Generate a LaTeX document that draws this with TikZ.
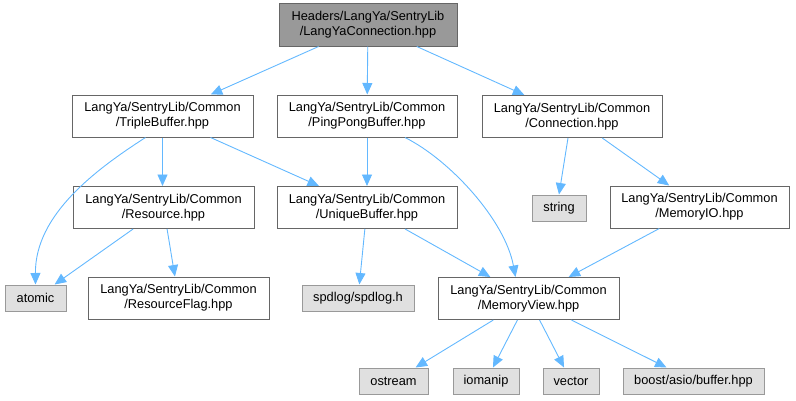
\documentclass[tikz,border=0pt]{standalone}
\usepackage{fontspec}
\setmainfont{Liberation Sans}
\usetikzlibrary{arrows.meta,calc}
\definecolor{edgec}{HTML}{63B8FF}
\definecolor{rootfill}{HTML}{999999}
\definecolor{boxline}{HTML}{666666}
\definecolor{extfill}{HTML}{E0E0E0}
\definecolor{extline}{HTML}{999999}
\tikzset{
  base/.style={rectangle, inner sep=0pt, line width=1pt, align=center,
    font=\fontsize{12.8}{15}\selectfont, text=black},
  filebox/.style={base, draw=boxline, fill=white, minimum width=#1pt, minimum height=42pt},
  rootbox/.style={base, draw=boxline, fill=rootfill, minimum width=#1pt, minimum height=43pt},
  extbox/.style={base, draw=extline, fill=extfill, minimum width=#1pt, minimum height=26pt},
  dep/.style={draw=edgec, line width=0.9pt, -{Triangle[length=11.5pt,width=10pt]}, color=edgec},
}
\begin{document}
\begin{tikzpicture}[x=1pt,y=-1pt]
\useasboundingbox (0,0) rectangle (796,400);
\node[rootbox=178] (root) at (368,24.5) {Headers/LangYa/SentryLib\\/LangYaConnection.hpp};
\node[filebox=181] (triple) at (162.5,116) {LangYa/SentryLib/Common\\/TripleBuffer.hpp};
\node[filebox=180] (ping) at (367,116) {LangYa/SentryLib/Common\\/PingPongBuffer.hpp};
\node[filebox=180] (conn) at (572,116.5) {LangYa/SentryLib/Common\\/Connection.hpp};
\node[extbox=54] (string) at (559,208) {string};
\node[filebox=179] (memio) at (699.5,207) {LangYa/SentryLib/Common\\/MemoryIO.hpp};
\node[filebox=181] (res) at (163.5,207.5) {LangYa/SentryLib/Common\\/Resource.hpp};
\node[filebox=180] (uniq) at (367,207.5) {LangYa/SentryLib/Common\\/UniqueBuffer.hpp};
\node[extbox=61] (atomic) at (35.5,298) {atomic};
\node[filebox=181] (resflag) at (178.5,298) {LangYa/SentryLib/Common\\/ResourceFlag.hpp};
\node[extbox=112] (spdlog) at (358,298) {spdlog/spdlog.h};
\node[filebox=181] (memview) at (528.5,298.5) {LangYa/SentryLib/Common\\/MemoryView.hpp};
\node[extbox=69] (ostream) at (393.5,381) {ostream};
\node[extbox=66] (iomanip) at (486,381) {iomanip};
\node[extbox=56] (vector) at (571,381) {vector};
\node[extbox=141] (boost) at (693.5,381) {boost/asio/buffer.hpp};

\draw[dep] (root) -- (triple);
\draw[dep] (root) -- (ping);
\draw[dep] (root) -- (conn);
\draw[dep] ($(triple.south)+(-17,0)$) .. controls (95,170) and (35,215) .. (atomic.north);
\draw[dep] (triple.south) -- (res.north -| triple.south);
\draw[dep] (triple) -- (uniq);
\draw[dep] (ping.south) -- (uniq.north);
\draw[dep] ($(ping.south)+(38,0)$) .. controls (450,160) and (505,220) .. ($(memview.north)+(-13,0)$);
\draw[dep] ($(conn.south)+(-4,0)$) -- (string.north);
\draw[dep] (conn) -- (memio);
\draw[dep] (res) -- (atomic);
\draw[dep] (res) -- (resflag);
\draw[dep] (uniq) -- (spdlog);
\draw[dep] (uniq) -- (memview);
\draw[dep] (memio) -- (memview);
\draw[dep] (memview) -- (ostream);
\draw[dep] (memview) -- (iomanip);
\draw[dep] (memview) -- (vector);
\draw[dep] (memview) -- (boost);
\end{tikzpicture}
\end{document}
